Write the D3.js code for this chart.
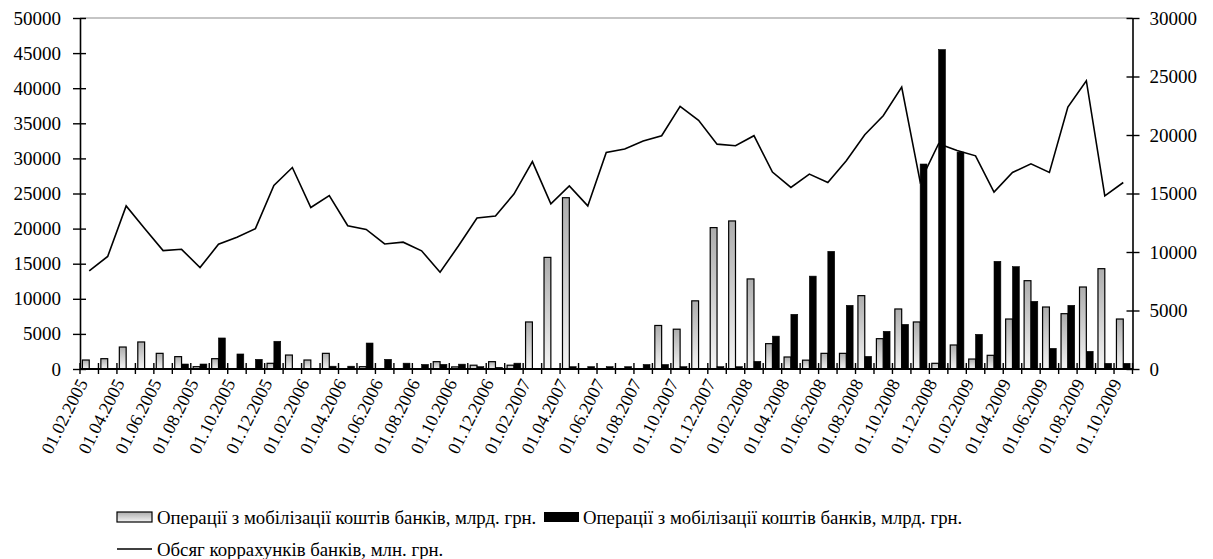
<!DOCTYPE html>
<html>
<head>
<meta charset="utf-8">
<script src="https://cdn.jsdelivr.net/npm/d3@7"></script>
<style>
  body { margin: 0; background: #fff; }
  svg { display: block; }
  text { font-family: "Liberation Serif", Tinos, "Times New Roman", "Liberation Sans", Arial, sans-serif; fill: #000; }
</style>
</head>
<body>
<div id="chart"></div>
<script>
// monthly dates, Feb 2005 .. Oct 2009
const months = [
  '01.02.2005','01.03.2005','01.04.2005','01.05.2005','01.06.2005','01.07.2005','01.08.2005','01.09.2005','01.10.2005','01.11.2005','01.12.2005',
  '01.01.2006','01.02.2006','01.03.2006','01.04.2006','01.05.2006','01.06.2006','01.07.2006','01.08.2006','01.09.2006','01.10.2006','01.11.2006','01.12.2006',
  '01.01.2007','01.02.2007','01.03.2007','01.04.2007','01.05.2007','01.06.2007','01.07.2007','01.08.2007','01.09.2007','01.10.2007','01.11.2007','01.12.2007',
  '01.01.2008','01.02.2008','01.03.2008','01.04.2008','01.05.2008','01.06.2008','01.07.2008','01.08.2008','01.09.2008','01.10.2008','01.11.2008','01.12.2008',
  '01.01.2009','01.02.2009','01.03.2009','01.04.2009','01.05.2009','01.06.2009','01.07.2009','01.08.2009','01.09.2009','01.10.2009'
];

// grey bars (left axis)
const mobilGrey = [
  1280, 1470, 3130, 3850, 2230, 1760, 330, 1470, 0, 0, 810,
  1990, 1280, 2230, 0, 330, 0, 0, 0, 1045, 300, 540, 1045,
  540, 6700, 15900, 24400, 0, 0, 0, 0, 6200, 5670, 9710, 20140,
  21090, 12830, 3610, 1710, 1260, 2230, 2230, 10450, 4320, 8550, 6700, 810,
  3420, 1420, 1950, 7120, 12580, 8830, 7880, 11680, 14290, 7120
];

// black bars (left axis)
const mobilBlack = [
  0, 0, 0, 0, 0, 710, 710, 4420, 2140, 1380, 3950,
  0, 0, 400, 400, 3700, 1380, 830, 650, 665, 690, 330, 240,
  830, 0, 0, 330, 330, 330, 330, 640, 640, 330, 0, 330,
  330, 1090, 4680, 7790, 13230, 16760, 9070, 1800, 5370, 6360, 29200, 45500,
  30900, 4940, 15340, 14580, 9640, 2940, 9070, 2520, 810, 810
];

// line (right axis)
const corrAccounts = [
  8380, 9620, 13940, 12000, 10120, 10230, 8665, 10660, 11260, 12000, 15680,
  17220, 13800, 14820, 12240, 11930, 10690, 10840, 10100, 8270, 10530, 12910, 13080,
  14950, 17730, 14110, 15650, 13940, 18510, 18800, 19480, 19940, 22450, 21250, 19220,
  19080, 19940, 16830, 15520, 16660, 15940, 17800, 20020, 21650, 24100, 16000, 19250,
  18680, 18220, 15120, 16800, 17540, 16800, 22390, 24640, 14800, 15940
];

const leftTicks  = [0, 5000, 10000, 15000, 20000, 25000, 30000, 35000, 40000, 45000, 50000];
const rightTicks = [0, 5000, 10000, 15000, 20000, 25000, 30000];
const seriesKeys = ['grey', 'black'];
const legendLabels = [
  'Операції з мобілізації коштів банків, млрд. грн.',
  'Операції з мобілізації коштів банків, млрд. грн.',
  'Обсяг коррахунків банків, млн. грн.'
];

const W = 1213, H = 559;
const margin = { top: 18, right: 80.5, bottom: 190, left: 80 };
const innerR = W - margin.right, innerB = H - margin.bottom;

const svg = d3.select('#chart').append('svg')
  .attr('width', W).attr('height', H);

const defs = svg.append('defs');
const grad = defs.append('linearGradient')
  .attr('id', 'greyGrad').attr('x1', 0).attr('y1', 0).attr('x2', 0).attr('y2', 1);
grad.append('stop').attr('offset', '0%').attr('stop-color', '#adadad');
grad.append('stop').attr('offset', '100%').attr('stop-color', '#f4f4f4');

const x0 = d3.scaleBand().domain(months).range([margin.left, innerR])
  .paddingInner(0.26).paddingOuter(0.13);
const x1 = d3.scaleBand().domain(seriesKeys).range([0, x0.bandwidth()]);
const yL = d3.scaleLinear().domain([0, 50000]).range([innerB, margin.top]);
const yR = d3.scaleLinear().domain([0, 30000]).range([innerB, margin.top]);
const cx = m => x0(m) + x0.bandwidth() / 2;

// top border of plot area
svg.append('line')
  .attr('x1', margin.left).attr('x2', innerR)
  .attr('y1', margin.top).attr('y2', margin.top)
  .attr('stroke', '#8c8c8c').attr('stroke-width', 1.2);

// -- bars ---------------------------------------------------------------
const rows = months.map((m, i) => ({ m, grey: mobilGrey[i], black: mobilBlack[i] }));
const groups = svg.append('g').selectAll('g').data(rows).join('g')
  .attr('transform', d => `translate(${x0(d.m)},0)`);

groups.selectAll('rect')
  .data(d => seriesKeys.map(k => ({ k, v: d[k] })).filter(e => e.v > 0))
  .join('rect')
  .attr('x', e => x1(e.k))
  .attr('y', e => yL(e.v))
  .attr('width', x1.bandwidth())
  .attr('height', e => yL(0) - yL(e.v))
  .attr('fill', e => e.k === 'grey' ? 'url(#greyGrad)' : '#000')
  .attr('stroke', '#000')
  .attr('stroke-width', e => e.k === 'grey' ? 1.2 : 0.6);

// -- line ---------------------------------------------------------------
const line = d3.line()
  .x((d, i) => cx(months[i]))
  .y(d => yR(d));
svg.append('path')
  .datum(corrAccounts)
  .attr('d', line)
  .attr('fill', 'none')
  .attr('stroke', '#000')
  .attr('stroke-width', 1.6)
  .attr('stroke-linejoin', 'miter');

// -- axes ---------------------------------------------------------------
const gL = svg.append('g').attr('transform', `translate(${margin.left},0)`)
  .call(d3.axisLeft(yL).tickValues(leftTicks).tickFormat(d3.format('d'))
    .tickSizeOuter(0).tickSizeInner(7).tickPadding(12));
gL.selectAll('.tick line').attr('x2', -7).attr('x1', 6);

const gR = svg.append('g').attr('transform', `translate(${innerR},0)`)
  .call(d3.axisRight(yR).tickValues(rightTicks).tickFormat(d3.format('d'))
    .tickSizeOuter(0).tickSizeInner(7).tickPadding(10));
gR.selectAll('.tick line').attr('x2', 7).attr('x1', -6);

[gL, gR].forEach(g => {
  g.attr('font-family', null);
  g.select('.domain').attr('stroke', '#000').attr('stroke-width', 1.6);
  g.selectAll('.tick line').attr('stroke', '#000').attr('stroke-width', 1.4);
  g.selectAll('text').attr('font-size', 19);
});

// x axis: line, crossing ticks on category boundaries, rotated labels
const gX = svg.append('g');
gX.append('line')
  .attr('x1', margin.left).attr('x2', innerR)
  .attr('y1', innerB).attr('y2', innerB)
  .attr('stroke', '#000').attr('stroke-width', 1.8);

const bounds = d3.range(months.length + 1).map(i => margin.left + i * x0.step());
gX.selectAll('line.tk').data(bounds).join('line')
  .attr('class', 'tk')
  .attr('x1', d => d).attr('x2', d => d)
  .attr('y1', innerB - 6).attr('y2', innerB + 5)
  .attr('stroke', '#000').attr('stroke-width', 1.4);

const labelled = months.filter((m, i) => i % 2 === 0);
gX.selectAll('text').data(labelled).join('text')
  .attr('transform', m => `translate(${cx(m) - 1},${innerB + 14}) rotate(-63)`)
  .attr('text-anchor', 'end')
  .attr('font-size', 18)
  .text(m => m);

// -- legend -------------------------------------------------------------
const lg = svg.append('g');
const row1 = 517, row2 = 549;
lg.append('rect').attr('x', 117).attr('y', row1 - 5).attr('width', 35).attr('height', 10)
  .attr('fill', 'url(#greyGrad)').attr('stroke', '#000').attr('stroke-width', 1.2);
lg.append('text').attr('x', 157).attr('y', row1 + 7).attr('font-size', 18.8).text(legendLabels[0]);
lg.append('rect').attr('x', 544).attr('y', row1 - 5).attr('width', 35).attr('height', 10)
  .attr('fill', '#000');
lg.append('text').attr('x', 583).attr('y', row1 + 7).attr('font-size', 18.8).text(legendLabels[1]);
lg.append('line').attr('x1', 117).attr('x2', 152).attr('y1', row2).attr('y2', row2)
  .attr('stroke', '#000').attr('stroke-width', 1.6);
lg.append('text').attr('x', 157).attr('y', row2 + 7).attr('font-size', 18.8).text(legendLabels[2]);
</script>
</body>
</html>
